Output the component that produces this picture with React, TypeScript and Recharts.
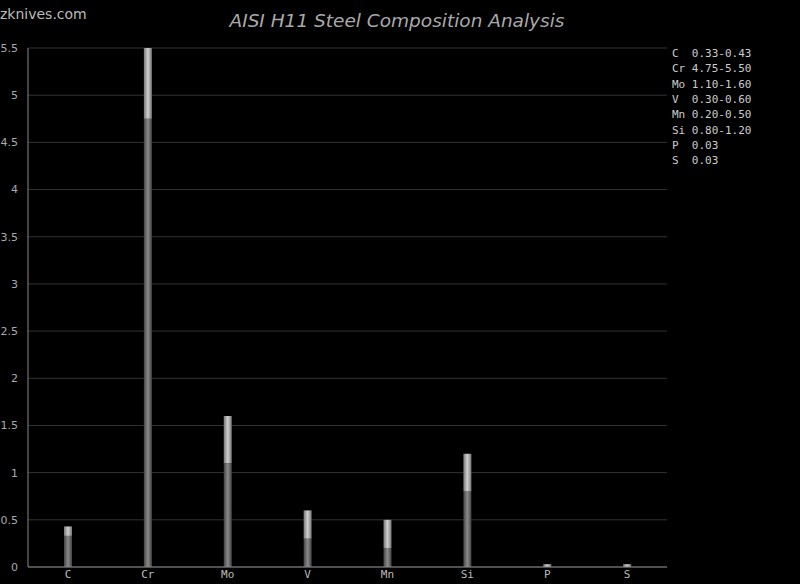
import React from 'react';
import { BarChart, Bar, XAxis, YAxis, CartesianGrid } from 'recharts';

const elements = ['C', 'Cr', 'Mo', 'V', 'Mn', 'Si', 'P', 'S'];
const minValues = [0.33, 4.75, 1.1, 0.3, 0.2, 0.8, 0, 0];
const maxValues = [0.43, 5.5, 1.6, 0.6, 0.5, 1.2, 0.03, 0.03];
const legendLabels = ['0.33-0.43', '4.75-5.50', '1.10-1.60', '0.30-0.60', '0.20-0.50', '0.80-1.20', '0.03', '0.03'];
const yTicks = [0, 0.5, 1, 1.5, 2, 2.5, 3, 3.5, 4, 4.5, 5, 5.5];

const data = elements.map((e, i) => ({
  name: e,
  min: minValues[i],
  range: +(maxValues[i] - minValues[i]).toFixed(2),
}));

export default function App() {
  return (
    <div style={{ position: 'fixed', left: 0, top: 0, width: 800, height: 584, background: '#000', overflow: 'hidden' }}>
      <div style={{ position: 'absolute', left: 0, top: 6, color: '#bbb', fontFamily: 'DejaVu Sans', fontSize: 14 }}>zknives.com</div>
      <div style={{ position: 'absolute', left: 0, width: 794, top: 10, textAlign: 'center', color: '#aaa', fontFamily: 'DejaVu Sans', fontStyle: 'italic', fontSize: 18.5 }}>
        AISI H11 Steel Composition Analysis
      </div>
      <BarChart width={800} height={584} data={data} margin={{ top: 48, right: 133, bottom: 0, left: 0 }}>
        <defs>
          <linearGradient id="gLow" x1="0" y1="0" x2="1" y2="0">
            <stop offset="0%" stopColor="#444" />
            <stop offset="50%" stopColor="#8a8a8a" />
            <stop offset="100%" stopColor="#444" />
          </linearGradient>
          <linearGradient id="gHigh" x1="0" y1="0" x2="1" y2="0">
            <stop offset="0%" stopColor="#777" />
            <stop offset="50%" stopColor="#cfcfcf" />
            <stop offset="100%" stopColor="#777" />
          </linearGradient>
        </defs>
        <CartesianGrid vertical={false} stroke="#333" />
        <XAxis dataKey="name" height={17} tickLine={false} tickSize={0} axisLine={{ stroke: '#888' }}
          tick={{ fill: '#bbb', fontFamily: 'DejaVu Sans Mono', fontSize: 11 }} tickMargin={3} />
        <YAxis width={28} domain={[0, 5.5]} ticks={yTicks} tickLine={false} axisLine={{ stroke: '#888' }}
          tick={{ fill: '#aaa', fontFamily: 'DejaVu Sans', fontSize: 11 }} tickMargin={4} />
        <Bar dataKey="min" stackId="a" fill="url(#gLow)" barSize={8} isAnimationActive={false} />
        <Bar dataKey="range" stackId="a" fill="url(#gHigh)" barSize={8} isAnimationActive={false} />
      </BarChart>
      {elements.map((e, i) => (
        <div key={e} style={{ position: 'absolute', left: 672, top: 47 + i * 15.3, color: '#ccc', fontFamily: 'DejaVu Sans Mono', fontSize: 11, whiteSpace: 'pre' }}>
          {e.padEnd(3, ' ') + legendLabels[i]}
        </div>
      ))}
    </div>
  );
}
